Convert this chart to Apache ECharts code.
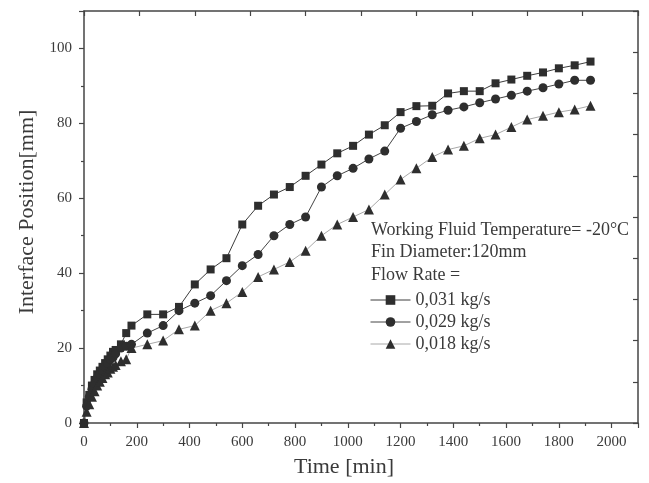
<!DOCTYPE html>
<html>
<head>
<meta charset="utf-8">
<script src="https://cdn.jsdelivr.net/npm/echarts@6/dist/echarts.min.js"></script>
<style>
  html, body { margin: 0; padding: 0; background: #fff; }
  #chart { width: 649px; height: 483px; }
</style>
</head>
<body>
<div id="chart"></div>
<script>
// Sampling times (min): every 10 min early on, then hourly steps
const timeMin = [0, 10, 20, 30, 40, 50, 60, 70, 80, 90, 100, 110, 120, 140, 160, 180,
  240, 300, 360, 420, 480, 540, 600, 660, 720, 780, 840, 900, 960, 1020, 1080, 1140,
  1200, 1260, 1320, 1380, 1440, 1500, 1560, 1620, 1680, 1740, 1800, 1860, 1920];

// Interface position (mm) for each flow rate
const pos031 = [0, 5.5, 7.5, 10, 11.5, 13, 14, 15, 16, 17, 18, 19, 19.5, 21, 24, 26,
  29, 29, 31, 37, 41, 44, 53, 58, 61, 63, 66, 69, 72, 74, 77, 79.5,
  83, 84.6, 84.7, 88, 88.6, 88.6, 90.7, 91.7, 92.7, 93.6, 94.7, 95.5, 96.5];
const pos029 = [0, 4.5, 7, 9, 10.5, 12, 13, 14, 15, 16, 17, 17.5, 18.5, 20, 20.5, 21,
  24, 26, 30, 32, 34, 38, 42, 45, 50, 53, 55, 63, 66, 68, 70.5, 72.6,
  78.7, 80.5, 82.3, 83.5, 84.4, 85.5, 86.5, 87.5, 88.6, 89.5, 90.5, 91.5, 91.5];
const pos018 = [0, 3, 5, 7, 8.5, 10, 11, 12, 13, 13.5, 14.5, 15, 15.5, 16.5, 17, 20,
  21, 22, 25, 26, 30, 32, 35, 39, 41, 43, 46, 50, 53, 55, 57, 61,
  65, 68, 71, 73, 74, 76, 77, 79, 81, 82, 83, 83.7, 84.7];

const seriesNames = ['0,031 kg/s', '0,029 kg/s', '0,018 kg/s'];
const xTicks = [0, 200, 400, 600, 800, 1000, 1200, 1400, 1600, 1800, 2000];
const yTicks = [0, 20, 40, 60, 80, 100];

const infoLines = ['Working Fluid Temperature= -20°C', 'Fin Diameter:120mm', 'Flow Rate ='];

const FONT = '"Liberation Serif", "Times New Roman", serif';
const INK = '#3a3a3a';
const AXIS = '#454545';

function pairs(ys) { return timeMin.map((t, i) => [t, ys[i]]); }

const chart = echarts.init(document.getElementById('chart'), null, { renderer: 'canvas' });

const option = {
  animation: false,
  backgroundColor: '#ffffff',
  grid: { left: 84, right: 11, top: 11, bottom: 60, containLabel: false },
  xAxis: [
    {
      type: 'value', min: 0, max: 2100, interval: 200,
      axisLine: { show: true, onZero: false, lineStyle: { color: AXIS, width: 1.5 } },
      axisTick: { show: true, inside: false, length: 5, lineStyle: { color: AXIS, width: 1.2 } },
      minorTick: { show: true, splitNumber: 2, length: 3, lineStyle: { color: AXIS, width: 1.2 } },
      splitLine: { show: false },
      axisLabel: {
        margin: 12, fontFamily: FONT, fontSize: 15, color: INK,
        formatter: v => (xTicks.indexOf(v) >= 0 ? String(v) : '')
      }
    },
    {
      // frame edge on top with its own inward ticks
      type: 'value', position: 'top', min: 0, max: 10, interval: 1,
      axisLine: { show: true, onZero: false, lineStyle: { color: AXIS, width: 1.5 } },
      axisTick: { show: true, inside: true, length: 5, lineStyle: { color: AXIS, width: 1.2 } },
      axisLabel: { show: false }, splitLine: { show: false }
    }
  ],
  yAxis: [
    {
      type: 'value', min: 0, max: 110, interval: 20,
      axisLine: { show: true, onZero: false, lineStyle: { color: AXIS, width: 1.5 } },
      axisTick: { show: true, inside: false, length: 5, lineStyle: { color: AXIS, width: 1.2 } },
      minorTick: { show: true, splitNumber: 2, length: 3, lineStyle: { color: AXIS, width: 1.2 } },
      splitLine: { show: false },
      axisLabel: {
        margin: 12, fontFamily: FONT, fontSize: 15, color: INK,
        formatter: v => (yTicks.indexOf(v) >= 0 ? String(v) : '')
      }
    },
    {
      // frame edge on the right with its own inward ticks
      type: 'value', position: 'right', min: 0, max: 10, interval: 1,
      axisLine: { show: true, onZero: false, lineStyle: { color: AXIS, width: 1.5 } },
      axisTick: { show: true, inside: true, length: 5, lineStyle: { color: AXIS, width: 1.2 } },
      axisLabel: { show: false }, splitLine: { show: false }
    }
  ],
  legend: {
    orient: 'vertical',
    left: 370, top: 291, padding: 0,
    itemWidth: 40, itemHeight: 12, itemGap: 4,
    data: seriesNames,
    lineStyle: { width: 1 },
    textStyle: { fontFamily: FONT, fontSize: 18, color: INK, lineHeight: 18 }
  },
  series: [
    {
      name: seriesNames[0], type: 'line', data: pairs(pos031),
      symbol: 'rect', symbolSize: 8,
      itemStyle: { color: '#2e2e2e' },
      lineStyle: { color: '#3c3c3c', width: 1 }
    },
    {
      name: seriesNames[1], type: 'line', data: pairs(pos029),
      symbol: 'circle', symbolSize: 9,
      itemStyle: { color: '#2e2e2e' },
      lineStyle: { color: '#444444', width: 1 }
    },
    {
      name: seriesNames[2], type: 'line', data: pairs(pos018),
      symbol: 'triangle', symbolSize: 10,
      itemStyle: { color: '#2e2e2e' },
      lineStyle: { color: '#a8a8a8', width: 1 }
    }
  ],
  graphic: [
    {
      type: 'text', x: 344, y: 467,
      style: { text: 'Time [min]', font: '22px ' + FONT, fill: INK, textAlign: 'center', textVerticalAlign: 'middle' }
    },
    {
      type: 'text', x: 27, y: 212, rotation: Math.PI / 2,
      style: { text: 'Interface Position[mm]', font: '22px ' + FONT, fill: INK, textAlign: 'center', textVerticalAlign: 'middle' }
    }
  ].concat(infoLines.map((t, i) => ({
    type: 'text', x: 371, y: 230 + i * 22.7,
    style: { text: t, font: '18px ' + FONT, fill: INK, textAlign: 'left', textVerticalAlign: 'middle' }
  })))
};

chart.setOption(option);
</script>
</body>
</html>
